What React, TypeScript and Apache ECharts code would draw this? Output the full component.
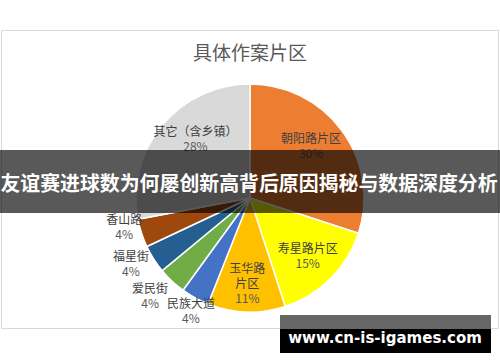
import React, { useEffect, useRef } from "react";
import * as echarts from "echarts";

const categories = ["朝阳路片区", "寿星路片区", "玉华路片区", "民族大道", "爱民街", "福星街", "香山路", "其它（含乡镇）"];
const labelTexts = ["朝阳路片区", "寿星路片区", "玉华路\n片区", "民族大道", "爱民街", "福星街", "香山路", "其它（含乡镇）"];
const values = [30, 15, 11, 4, 4, 4, 4, 28];
const colors = ["#ED7D31", "#FFFF00", "#FFC000", "#4472C4", "#70AD47", "#255E91", "#9E480E", "#D9D9D9"];
const titleText = "具体作案片区";
const bannerText = "友谊赛进球数为何屡创新高背后原因揭秘与数据深度分析";
const watermarkText = "www.cn-is-igames.com";

// label placement: radius factor and angle nudge (deg)
const labelRadius = [0.71, 0.71, 0.74, 1.11, 1.22, 1.19, 1.13, 0.71];
const labelAngleNudge = [5, 0.5, 0, 1, -2.7, -3.8, -5.5, -8];

const CX = 250;
const CY = 198;
const R = 114;

export default function App() {
  const ref = useRef<HTMLDivElement>(null);
  useEffect(() => {
    if (!ref.current) return;
    const chart = echarts.init(ref.current, null, { renderer: "svg" });
    const total = values.reduce((a, b) => a + b, 0);
    const font = '"Noto Sans CJK SC", "Noto Sans", sans-serif';
    chart.setOption({
      animation: false,
      backgroundColor: "#ffffff",
      title: {
        text: titleText,
        left: "center",
        top: 42,
        padding: 0,
        textStyle: { fontSize: 19, fontWeight: "normal", color: "#595959", fontFamily: font },
      },
      graphic: [
        {
          type: "rect",
          z: -10,
          shape: { x: 1.5, y: 30.5, width: 497, height: 298 },
          style: { fill: "#ffffff", stroke: "#D9D9D9", lineWidth: 1 },
        },
        {
          type: "rect",
          z: 100,
          shape: { x: 0, y: 150, width: 500, height: 63 },
          style: { fill: "rgba(0,0,0,0.65)" },
        },
        {
          type: "text",
          z: 101,
          x: 249,
          y: 182,
          style: {
            text: bannerText,
            fill: "#ffffff",
            font: `bold 19.9px ${font}`,
            align: "center",
            verticalAlign: "middle",
          },
        },
        {
          type: "rect",
          z: 100,
          shape: { x: 280, y: 315, width: 211, height: 14 },
          style: { fill: "#666666" },
        },
        {
          type: "rect",
          z: 100,
          shape: { x: 280, y: 329, width: 211, height: 24 },
          style: { fill: "#000000" },
        },
        {
          type: "text",
          z: 101,
          x: 385,
          y: 338,
          style: {
            text: watermarkText,
            fill: "#ffffff",
            font: 'bold 15px "DejaVu Sans", sans-serif',
            align: "center",
            verticalAlign: "middle",
          },
        },
      ],
      series: [
        {
          type: "pie",
          center: [CX, CY],
          radius: [0, R],
          startAngle: 90,
          clockwise: true,
          data: categories.map((c, i) => ({ name: c, value: values[i], itemStyle: { color: colors[i] } })),
          itemStyle: { borderColor: "#ffffff", borderWidth: 1.5 },
          emphasis: { disabled: true },
          labelLine: { show: false },
          label: {
            show: true,
            position: "inside",
            formatter: (p: any) => `{n|${labelTexts[p.dataIndex]}}\n{p|${Math.round(p.percent)}%}`,
            rich: {
              n: { fontSize: 12, color: "#404040", fontFamily: font, lineHeight: 15, align: "center" },
              p: { fontSize: 12, color: "#595959", fontFamily: font, lineHeight: 15, align: "center" },
            },
          },
          labelLayout: (params: any) => {
            const i = params.dataIndex;
            let cum = 0;
            for (let k = 0; k < i; k++) cum += values[k];
            const mid = 90 - (360 * (cum + values[i] / 2)) / total + labelAngleNudge[i];
            const a = (mid * Math.PI) / 180;
            const rho = labelRadius[i] * R;
            return {
              x: CX + rho * Math.cos(a),
              y: CY - rho * Math.sin(a),
              align: "center",
              verticalAlign: "middle",
            };
          },
        },
      ],
    });
    return () => chart.dispose();
  }, []);
  return (
    <div
      ref={ref}
      style={{ position: "absolute", left: 0, top: 0, width: 500, height: 362 }}
    />
  );
}
